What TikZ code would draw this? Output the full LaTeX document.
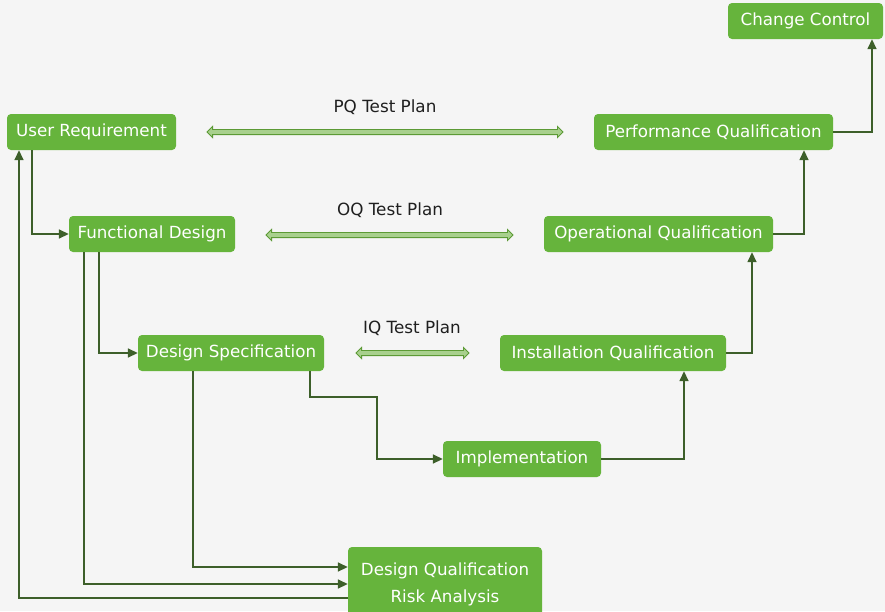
\documentclass[tikz,border=0pt]{standalone}
\usepackage{fontspec}
\setmainfont{DejaVu Sans}
\usetikzlibrary{shapes.arrows,arrows.meta}
\definecolor{bg}{HTML}{F5F5F5}
\definecolor{boxg}{HTML}{66B43C}
\definecolor{lineg}{HTML}{3D5F2A}
\definecolor{lg}{HTML}{A8D08D}
\definecolor{dg}{HTML}{5C9A35}
\begin{document}
\begin{tikzpicture}[x=1pt,y=-1pt,
  box/.style={rectangle, rounded corners=4pt, fill=boxg, text=white, minimum height=36pt, inner sep=0pt, font=\fontsize{16.7}{19}\selectfont},
  conn/.style={draw=lineg, line width=1.6pt, -{Triangle[length=10pt,width=9pt]}},
  dbl/.style={double arrow, draw=dg, fill=lg, line width=0.8pt, inner xsep=0pt, inner ysep=2.2pt, double arrow head extend=3pt, double arrow head indent=0pt},
  lbl/.style={font=\fontsize{16.8}{19}\selectfont, text=black!88}]
\fill[bg] (0,0) rectangle (885,611);
\useasboundingbox (0,0) rectangle (885,611);

\node[box, minimum width=155pt] (cc) at (805.5,21) {Change Control};
\node[box, minimum width=169pt] (ur) at (91.5,132) {User Requirement};
\node[box, minimum width=239pt] (pq) at (713.5,132) {Performance Qualification};
\node[box, minimum width=166pt] (fd) at (152,234) {Functional Design};
\node[box, minimum width=229pt] (oq) at (658.5,234) {Operational Qualification};
\node[box, minimum width=186pt] (ds) at (231,353) {Design Specification};
\node[box, minimum width=226pt] (iq) at (613,353) {Installation Qualification};
\node[box, minimum width=158pt] (impl) at (522,459) {Implementation};
\node[box, minimum width=194pt, minimum height=74pt, align=center, font=\fontsize{16.7}{27}\selectfont] (dq) at (445,584) {Design Qualification\\Risk Analysis};

\node[dbl, minimum height=356pt] (pqa) at (385,132) {};
\node[dbl, minimum height=247pt] (oqa) at (389.5,235) {};
\node[dbl, minimum height=113pt] (iqa) at (412.5,353) {};
\node[lbl] (pql) at (385,107) {PQ Test Plan};
\node[lbl] (oql) at (390,210) {OQ Test Plan};
\node[lbl] (iql) at (412,328) {IQ Test Plan};

\draw[conn] ([xshift=-59.5pt]ur.south) |- (fd.west);
\draw[conn] ([xshift=-53pt]fd.south) |- (ds.west);
\draw[conn] ([xshift=-68pt]fd.south) |- (dq.west);
\draw[conn] ([xshift=-38pt]ds.south) |- ([yshift=17pt]dq.west);
\draw[conn] ([yshift=-14pt]dq.west) -| ([xshift=-72.5pt]ur.south);
\draw[conn] ([xshift=79pt]ds.south) -- ++(0,26) -- ++(67,0) |- (impl.west);
\draw[conn] (impl.east) -| ([xshift=71pt]iq.south);
\draw[conn] (iq.east) -| ([xshift=93.5pt]oq.south);
\draw[conn] (oq.east) -| ([xshift=90.5pt]pq.south);
\draw[conn] (pq.east) -| ([xshift=66.5pt]cc.south);
\end{tikzpicture}
\end{document}
